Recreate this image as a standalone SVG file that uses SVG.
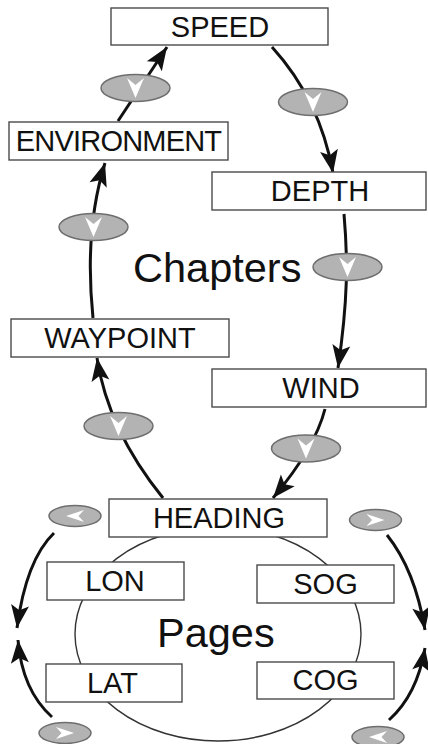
<svg xmlns="http://www.w3.org/2000/svg" xmlns:xlink="http://www.w3.org/1999/xlink" width="428" height="744" viewBox="0 0 428 744">
<style>
.box{fill:#fff;stroke:#4a4a4a;stroke-width:1.4}
.lbl{font-family:"Liberation Sans",Arial,sans-serif;font-size:29px;fill:#111;text-anchor:middle}
.big{font-family:"Liberation Sans",Arial,sans-serif;font-size:41.5px;fill:#111}
.con{fill:none;stroke:#111;stroke-width:3}
.oval{fill:#b3b3b3;stroke:#6e6e6e;stroke-width:1.5}
.chev{fill:#fff}
.ring{fill:none;stroke:#333;stroke-width:1.4}
</style>
<defs>
<marker id="ah" markerUnits="userSpaceOnUse" markerWidth="26" markerHeight="22" viewBox="-24 -11 26 22" refX="0" refY="0" orient="auto">
<path d="M0,0 L-23,-9 L-18,0 L-23,9 Z" fill="#111"/>
</marker>
<g id="btnV">
<ellipse class="oval" cx="0" cy="0" rx="34.5" ry="13.5"/>
<path class="chev" d="M-8.5,-10 L0,-3 L8.5,-10 L0,10 Z"/>
</g>
<g id="btnL">
<ellipse class="oval" cx="0" cy="0" rx="26" ry="10.5"/>
<path class="chev" d="M-9,0 L9,-6 L3.5,0 L9,6 Z"/>
</g>
<g id="btnR">
<ellipse class="oval" cx="0" cy="0" rx="26" ry="10.5"/>
<path class="chev" d="M9,0 L-9,-6 L-3.5,0 L-9,6 Z"/>
</g>
</defs>
<rect width="428" height="744" fill="#fff"/>
<ellipse class="ring" cx="218" cy="634" rx="143" ry="107"/>
<g id="connectors">
<path class="con" d="M118,121 L167,47" marker-end="url(#ah)"/>
<path class="con" d="M272,47 Q320,100 333,173" marker-end="url(#ah)"/>
<path class="con" d="M93,318 Q84,230 105,163" marker-end="url(#ah)"/>
<path class="con" d="M344,214 C348,260 348,300 338,368" marker-end="url(#ah)"/>
<path class="con" d="M325,409 Q315,448 273,498" marker-end="url(#ah)"/>
<path class="con" d="M163,498 Q108,430 97,358" marker-end="url(#ah)"/>
<path class="con" d="M54,533 Q26,560 17,628" marker-end="url(#ah)"/>
<path class="con" d="M52,717 Q22,690 18,640" marker-end="url(#ah)"/>
<path class="con" d="M387,535 Q415,570 425,630" marker-end="url(#ah)"/>
<path class="con" d="M389,720 Q417,695 425,648" marker-end="url(#ah)"/>
<use xlink:href="#btnV" x="135.5" y="88"/>
<use xlink:href="#btnV" x="313" y="102"/>
<use xlink:href="#btnV" x="93.5" y="227"/>
<use xlink:href="#btnV" x="347.5" y="267"/>
<use xlink:href="#btnV" x="306" y="448.5"/>
<use xlink:href="#btnV" x="118.5" y="426"/>
<use xlink:href="#btnL" x="75" y="516"/>
<use xlink:href="#btnR" x="65" y="733"/>
<use xlink:href="#btnR" x="375.5" y="520"/>
<use xlink:href="#btnL" x="378" y="737"/>
</g>
<g id="speed"><rect class="box" x="111" y="8" width="217" height="37"/><text class="lbl" x="220" y="36.5">SPEED</text></g>
<g id="environment"><rect class="box" x="9" y="122" width="219" height="38"/><text class="lbl" x="118.5" y="151" letter-spacing="-0.8">ENVIRONMENT</text></g>
<g id="depth"><rect class="box" x="212" y="172" width="214" height="38"/><text class="lbl" x="320" y="201">DEPTH</text></g>
<g id="waypoint"><rect class="box" x="11" y="319" width="218" height="38"/><text class="lbl" x="120" y="348">WAYPOINT</text></g>
<g id="wind"><rect class="box" x="212" y="369" width="214" height="38"/><text class="lbl" x="321" y="398">WIND</text></g>
<g id="heading"><rect class="box" x="109" y="499" width="218" height="38"/><text class="lbl" x="219" y="528">HEADING</text></g>
<g id="lon"><rect class="box" x="47" y="562" width="137" height="38"/><text class="lbl" x="115" y="591">LON</text></g>
<g id="sog"><rect class="box" x="257" y="565" width="137" height="38"/><text class="lbl" x="325.5" y="594">SOG</text></g>
<g id="lat"><rect class="box" x="46" y="664" width="136" height="38"/><text class="lbl" x="112.5" y="693">LAT</text></g>
<g id="cog"><rect class="box" x="257" y="662" width="137" height="37"/><text class="lbl" x="325.5" y="690">COG</text></g>
<text class="big" x="133" y="282">Chapters</text>
<text class="big" x="157" y="647">Pages</text>
</svg>
